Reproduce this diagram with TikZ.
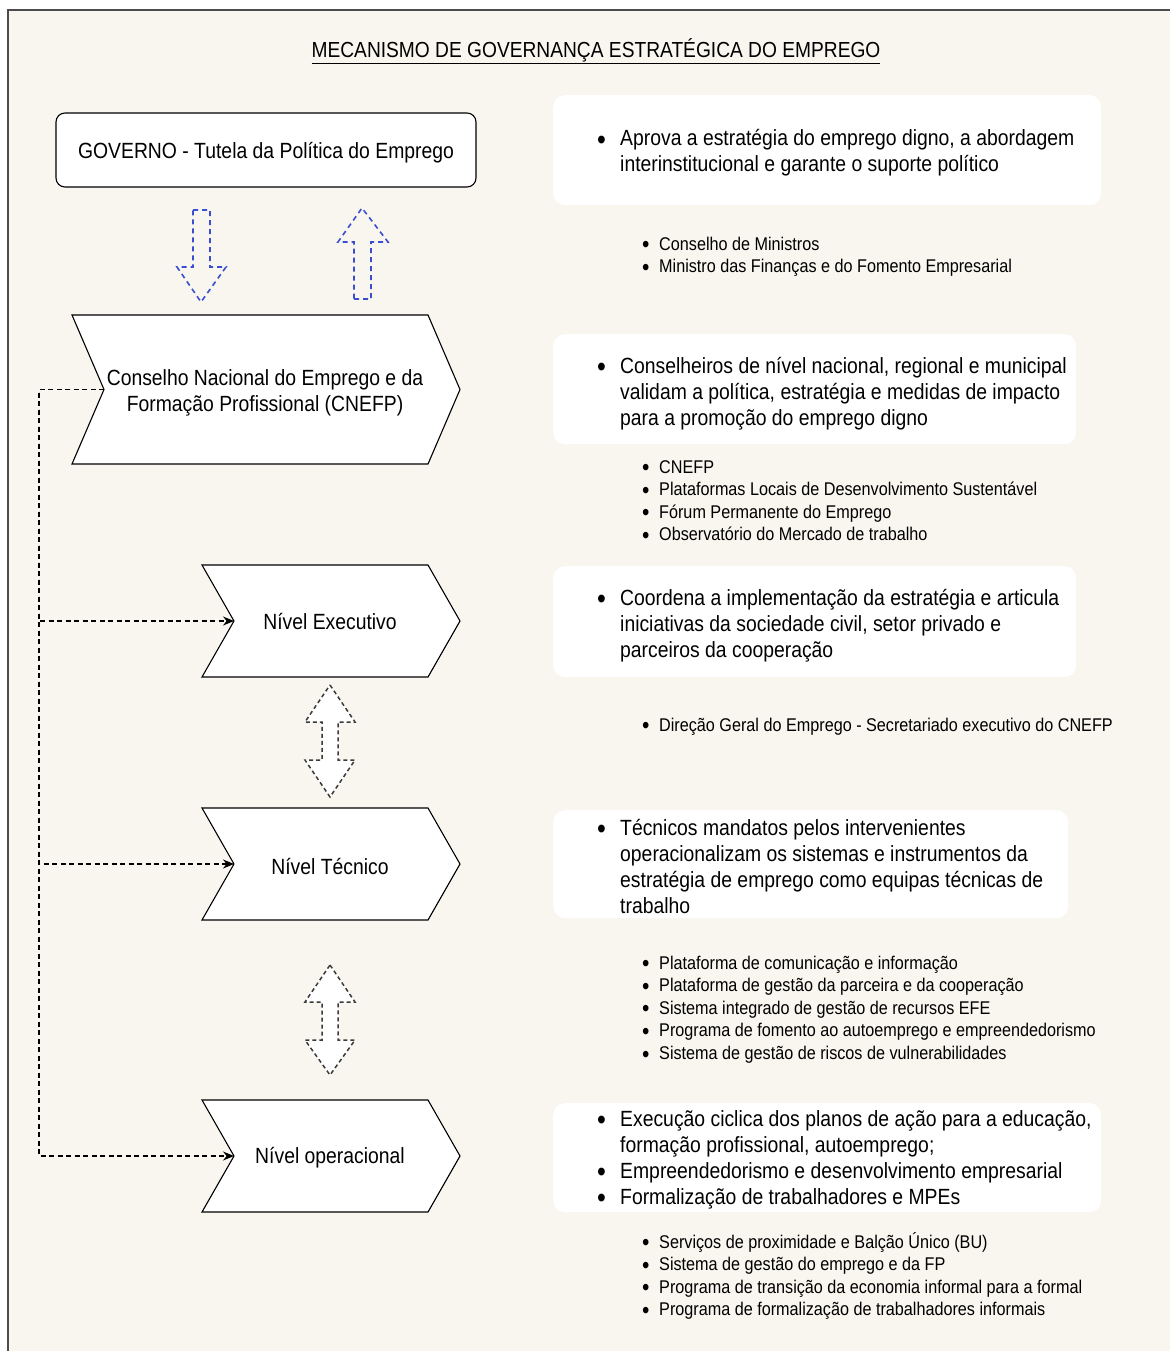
\documentclass[tikz,border=0pt]{standalone}
\usepackage{fontspec}
\setmainfont{Liberation Sans}[FakeStretch=0.88]
\usetikzlibrary{arrows.meta}
\definecolor{bg}{HTML}{F8F6EF}
\definecolor{arrblue}{HTML}{3A4FCF}
\definecolor{arrgray}{HTML}{3A3A3A}
\newcommand\bigf{\fontsize{22}{26}\selectfont}
\newcommand\smallf{\fontsize{18.4}{22.6}\selectfont}
\newcommand\bb{\makebox[23pt][l]{\raisebox{-3.2pt}{\scalebox{1.3}{\textbullet}}}}
\newcommand\sbl{\makebox[17pt][l]{\raisebox{-2.6pt}{\scalebox{1.3}{\textbullet}}}}
\newcommand\chev[5]{%
  \draw[chevron] (#2,#3) -- (#4-32,#3) -- (#4,{(#3+#5)/2}) -- (#4-32,#5) -- (#2,#5) -- (#2+32,{(#3+#5)/2}) -- cycle;
  \coordinate (#1-notch) at (#2+32,{(#3+#5)/2});}
\tikzset{
  chevron/.style={draw=black, fill=white, line width=1.1pt, line join=miter},
  rbox/.style={fill=white, rounded corners=12pt, inner sep=0pt},
  bigtext/.style={font=\bigf, inner sep=0pt, anchor=base west},
  smalltext/.style={font=\smallf, inner sep=0pt, anchor=base west},
  levtext/.style={font=\bigf, align=center, inner sep=0pt},
  bluearrow/.style={draw=arrblue, line width=1.6pt, dash pattern=on 5pt off 4pt},
  grayarrow/.style={draw=arrgray, fill=white, line width=1.5pt, dash pattern=on 4pt off 3pt},
  conn/.style={draw=black, line width=1.2pt, dash pattern=on 5pt off 3.5pt, -{Stealth[length=11pt,width=9pt]}}
}
\begin{document}
\begin{tikzpicture}[x=1pt,y=-1pt]
\useasboundingbox (0,0) rectangle (1170,1351);
\fill[white] (0,0) rectangle (1170,1351);
\fill[bg] (8,10) rectangle (1170,1351);
\draw[black!70, line width=1.5pt] (8,1351) -- (8,10) -- (1170,10);

\node[font=\fontsize{21.8}{26}\selectfont] (title) at (596,51) {\underline{MECANISMO DE GOVERNANÇA ESTRATÉGICA DO EMPREGO}};

% government box
\node[draw, fill=white, rounded corners=9pt, line width=1.1pt, minimum width=420pt, minimum height=74pt] (gov) at (266,150) {};
\node[font=\bigf, inner sep=0pt] (govtext) at (266,153) {GOVERNO - Tutela da Política do Emprego};

% blue arrows
\draw[bluearrow] (193,210) -- (210,210) -- (210,267) -- (226,267) -- (201,302) -- (177,267) -- (193,267) -- cycle;
\draw[bluearrow] (354,299) -- (371,299) -- (371,242) -- (388,242) -- (362,208) -- (338,242) -- (354,242) -- cycle;

% chevrons
\chev{cn}{72}{315}{460}{464}
\chev{ex}{202}{565}{460}{677}
\chev{te}{202}{808}{460}{920}
\chev{op}{202}{1100}{460}{1212}
\node[levtext] (cntext) at (265,393) {Conselho Nacional do Emprego e da\\Formação Profissional (CNEFP)};
\node[levtext] (extext) at (330,622) {Nível Executivo};
\node[levtext] (tetext) at (330,866) {Nível Técnico};
\node[levtext] (optext) at (330,1158) {Nível operacional};

% gray double arrows
\draw[grayarrow] (330,685) -- (355,722) -- (338,722) -- (338,760) -- (355,760) -- (330,797) -- (305,760) -- (322,760) -- (322,722) -- (305,722) -- cycle;
\draw[grayarrow] (330,965) -- (355,1002) -- (338,1002) -- (338,1040) -- (355,1040) -- (330,1075) -- (305,1040) -- (322,1040) -- (322,1002) -- (305,1002) -- cycle;

% dashed connectors
\draw[conn] (cn-notch) -- ++(-65,0) |- (ex-notch);
\draw[conn] (cn-notch) -- ++(-65,0) |- (te-notch);
\draw[conn] (cn-notch) -- ++(-65,0) |- (op-notch);

% right boxes
\node[rbox, minimum width=548pt, minimum height=110pt, anchor=north west] (r1) at (553,95) {};
\node[rbox, minimum width=523pt, minimum height=110pt, anchor=north west] (r2) at (553,334) {};
\node[rbox, minimum width=523pt, minimum height=111pt, anchor=north west] (r3) at (553,566) {};
\node[rbox, minimum width=515pt, minimum height=108pt, anchor=north west] (r4) at (553,810) {};
\node[rbox, minimum width=548pt, minimum height=109pt, anchor=north west] (r5) at (553,1103) {};

\node[bigtext] (t1) at (597,146) {\begin{tabular}[t]{@{}l@{}l@{}}
\bb & Aprova a estratégia do emprego digno, a abordagem\\
 & interinstitucional e garante o suporte político
\end{tabular}};
\node[bigtext] (t2) at (597,373) {\begin{tabular}[t]{@{}l@{}l@{}}
\bb & Conselheiros de nível nacional, regional e municipal\\
 & validam a política, estratégia e medidas de impacto\\
 & para a promoção do emprego digno
\end{tabular}};
\node[bigtext] (t3) at (597,605) {\begin{tabular}[t]{@{}l@{}l@{}}
\bb & Coordena a implementação da estratégia e articula\\
 & iniciativas da sociedade civil, setor privado e\\
 & parceiros da cooperação
\end{tabular}};
\node[bigtext] (t4) at (597,835) {\begin{tabular}[t]{@{}l@{}l@{}}
\bb & Técnicos mandatos pelos intervenientes\\
 & operacionalizam os sistemas e instrumentos da\\
 & estratégia de emprego como equipas técnicas de\\
 & trabalho
\end{tabular}};
\node[bigtext] (t5) at (597,1126) {\begin{tabular}[t]{@{}l@{}l@{}}
\bb & Execução ciclica dos planos de ação para a educação,\\
 & formação profissional, autoemprego;\\
\bb & Empreendedorismo e desenvolvimento empresarial\\
\bb & Formalização de trabalhadores e MPEs
\end{tabular}};

% small lists
\node[smalltext] (s1) at (642,250) {\begin{tabular}[t]{@{}l@{}l@{}}
\sbl & Conselho de Ministros\\
\sbl & Ministro das Finanças e do Fomento Empresarial
\end{tabular}};
\node[smalltext] (s2) at (642,473) {\begin{tabular}[t]{@{}l@{}l@{}}
\sbl & CNEFP\\
\sbl & Plataformas Locais de Desenvolvimento Sustentável\\
\sbl & Fórum Permanente do Emprego\\
\sbl & Observatório do Mercado de trabalho
\end{tabular}};
\node[smalltext] (s3) at (642,731) {\begin{tabular}[t]{@{}l@{}l@{}}
\sbl & Direção Geral do Emprego - Secretariado executivo do CNEFP
\end{tabular}};
\node[smalltext] (s4) at (642,969) {\begin{tabular}[t]{@{}l@{}l@{}}
\sbl & Plataforma de comunicação e informação\\
\sbl & Plataforma de gestão da parceira e da cooperação\\
\sbl & Sistema integrado de gestão de recursos EFE\\
\sbl & Programa de fomento ao autoemprego e empreendedorismo\\
\sbl & Sistema de gestão de riscos de vulnerabilidades
\end{tabular}};
\node[smalltext] (s5) at (642,1248) {\begin{tabular}[t]{@{}l@{}l@{}}
\sbl & Serviços de proximidade e Balção Único (BU)\\
\sbl & Sistema de gestão do emprego e da FP\\
\sbl & Programa de transição da economia informal para a formal\\
\sbl & Programa de formalização de trabalhadores informais
\end{tabular}};
\end{tikzpicture}
\end{document}
